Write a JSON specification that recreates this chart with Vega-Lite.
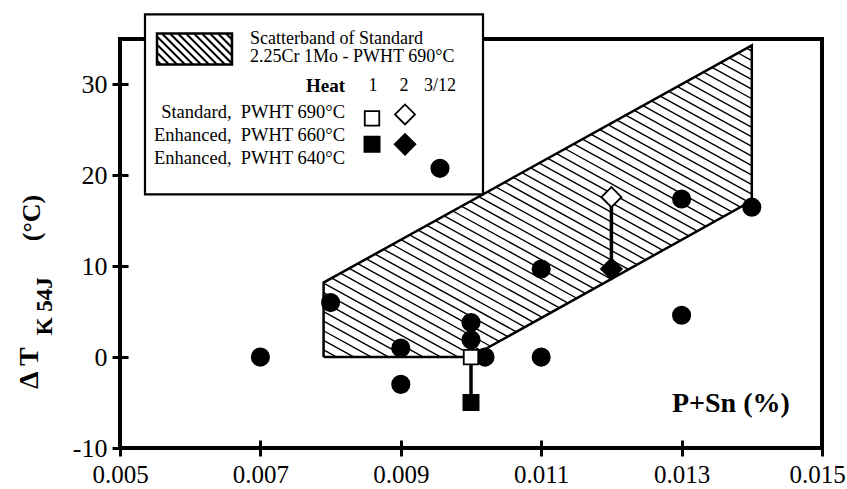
{
  "$schema": "https://vega.github.io/schema/vega-lite/v6.json",
  "width": 702,
  "height": 409,
  "autosize": {"type": "none"},
  "padding": {"left": 120, "top": 39, "right": 25, "bottom": 41},
  "background": "white",
  "config": {
    "view": {"stroke": "black", "strokeWidth": 4},
    "font": "Liberation Serif",
    "axis": {"labelFont": "Liberation Serif", "labelColor": "black", "grid": false, "domain": false, "tickColor": "black", "tickWidth": 3}
  },
  "datasets": {
    "hatch": [
      {"x": 0.0079, "y": 0.8, "x2": 0.008088, "y2": 0},
      {"x": 0.0079, "y": 1.85, "x2": 0.008335, "y2": 0},
      {"x": 0.0079, "y": 2.9, "x2": 0.008582, "y2": 0},
      {"x": 0.0079, "y": 3.95, "x2": 0.008829, "y2": 0},
      {"x": 0.0079, "y": 5.0, "x2": 0.009076, "y2": 0},
      {"x": 0.0079, "y": 6.05, "x2": 0.009324, "y2": 0},
      {"x": 0.0079, "y": 7.1, "x2": 0.009571, "y2": 0},
      {"x": 0.0079, "y": 8.15, "x2": 0.009818, "y2": 0},
      {"x": 0.008017, "y": 8.702, "x2": 0.010032, "y2": 0.138},
      {"x": 0.00814, "y": 9.229, "x2": 0.010155, "y2": 0.666},
      {"x": 0.008264, "y": 9.755, "x2": 0.010278, "y2": 1.194},
      {"x": 0.008387, "y": 10.282, "x2": 0.010401, "y2": 1.722},
      {"x": 0.00851, "y": 10.809, "x2": 0.010523, "y2": 2.25},
      {"x": 0.008633, "y": 11.336, "x2": 0.010646, "y2": 2.778},
      {"x": 0.008756, "y": 11.863, "x2": 0.010769, "y2": 3.306},
      {"x": 0.008879, "y": 12.389, "x2": 0.010892, "y2": 3.834},
      {"x": 0.009002, "y": 12.916, "x2": 0.011015, "y2": 4.363},
      {"x": 0.009125, "y": 13.443, "x2": 0.011137, "y2": 4.891},
      {"x": 0.009248, "y": 13.97, "x2": 0.01126, "y2": 5.419},
      {"x": 0.009372, "y": 14.496, "x2": 0.011383, "y2": 5.947},
      {"x": 0.009495, "y": 15.023, "x2": 0.011506, "y2": 6.475},
      {"x": 0.009618, "y": 15.55, "x2": 0.011629, "y2": 7.003},
      {"x": 0.009741, "y": 16.077, "x2": 0.011751, "y2": 7.531},
      {"x": 0.009864, "y": 16.603, "x2": 0.011874, "y2": 8.059},
      {"x": 0.009987, "y": 17.13, "x2": 0.011997, "y2": 8.587},
      {"x": 0.01011, "y": 17.657, "x2": 0.01212, "y2": 9.115},
      {"x": 0.010233, "y": 18.184, "x2": 0.012243, "y2": 9.643},
      {"x": 0.010356, "y": 18.71, "x2": 0.012366, "y2": 10.171},
      {"x": 0.01048, "y": 19.237, "x2": 0.012488, "y2": 10.699},
      {"x": 0.010603, "y": 19.764, "x2": 0.012611, "y2": 11.227},
      {"x": 0.010726, "y": 20.291, "x2": 0.012734, "y2": 11.756},
      {"x": 0.010849, "y": 20.817, "x2": 0.012857, "y2": 12.284},
      {"x": 0.010972, "y": 21.344, "x2": 0.01298, "y2": 12.812},
      {"x": 0.011095, "y": 21.871, "x2": 0.013102, "y2": 13.34},
      {"x": 0.011218, "y": 22.398, "x2": 0.013225, "y2": 13.868},
      {"x": 0.011341, "y": 22.925, "x2": 0.013348, "y2": 14.396},
      {"x": 0.011464, "y": 23.451, "x2": 0.013471, "y2": 14.924},
      {"x": 0.011588, "y": 23.978, "x2": 0.013594, "y2": 15.452},
      {"x": 0.011711, "y": 24.505, "x2": 0.013716, "y2": 15.98},
      {"x": 0.011834, "y": 25.032, "x2": 0.013839, "y2": 16.508},
      {"x": 0.011957, "y": 25.558, "x2": 0.013962, "y2": 17.036},
      {"x": 0.01208, "y": 26.085, "x2": 0.014, "y2": 17.925},
      {"x": 0.012203, "y": 26.612, "x2": 0.014, "y2": 18.975},
      {"x": 0.012326, "y": 27.139, "x2": 0.014, "y2": 20.025},
      {"x": 0.012449, "y": 27.665, "x2": 0.014, "y2": 21.075},
      {"x": 0.012572, "y": 28.192, "x2": 0.014, "y2": 22.125},
      {"x": 0.012696, "y": 28.719, "x2": 0.014, "y2": 23.175},
      {"x": 0.012819, "y": 29.246, "x2": 0.014, "y2": 24.225},
      {"x": 0.012942, "y": 29.772, "x2": 0.014, "y2": 25.275},
      {"x": 0.013065, "y": 30.299, "x2": 0.014, "y2": 26.325},
      {"x": 0.013188, "y": 30.826, "x2": 0.014, "y2": 27.375},
      {"x": 0.013311, "y": 31.353, "x2": 0.014, "y2": 28.425},
      {"x": 0.013434, "y": 31.879, "x2": 0.014, "y2": 29.475},
      {"x": 0.013557, "y": 32.406, "x2": 0.014, "y2": 30.525},
      {"x": 0.01368, "y": 32.933, "x2": 0.014, "y2": 31.575},
      {"x": 0.013804, "y": 33.46, "x2": 0.014, "y2": 32.625},
      {"x": 0.013927, "y": 33.986, "x2": 0.014, "y2": 33.675}
    ],
    "band": [
      {"i": 1, "x": 0.0079, "y": 0},
      {"i": 2, "x": 0.0100, "y": 0},
      {"i": 3, "x": 0.0140, "y": 17.2},
      {"i": 4, "x": 0.0140, "y": 34.3},
      {"i": 5, "x": 0.0079, "y": 8.2},
      {"i": 6, "x": 0.0079, "y": 0}
    ],
    "links": [
      {"x": 0.010, "y": 0, "y2": -5},
      {"x": 0.012, "y": 17.6, "y2": 9.7}
    ],
    "pts": [
      {"s": "3/12 Enhanced 640", "x": 0.007, "y": 0},
      {"s": "3/12 Enhanced 640", "x": 0.008, "y": 6.0},
      {"s": "3/12 Enhanced 640", "x": 0.009, "y": 1.0},
      {"s": "3/12 Enhanced 640", "x": 0.009, "y": -3.0},
      {"s": "3/12 Enhanced 640", "x": 0.010, "y": 3.8},
      {"s": "3/12 Enhanced 640", "x": 0.010, "y": 1.9},
      {"s": "3/12 Enhanced 640", "x": 0.0102, "y": 0},
      {"s": "3/12 Enhanced 640", "x": 0.011, "y": 9.7},
      {"s": "3/12 Enhanced 640", "x": 0.011, "y": 0},
      {"s": "3/12 Enhanced 640", "x": 0.013, "y": 17.4},
      {"s": "3/12 Enhanced 640", "x": 0.013, "y": 4.6},
      {"s": "3/12 Enhanced 640", "x": 0.014, "y": 16.5},
      {"s": "1 Standard 690", "x": 0.010, "y": 0},
      {"s": "1 Enhanced 660", "x": 0.010, "y": -5},
      {"s": "2 Standard 690", "x": 0.012, "y": 17.6},
      {"s": "2 Enhanced 660", "x": 0.012, "y": 9.7}
    ],
    "legbox": [{"x": 0.005356, "x2": 0.010171, "y": 17.9, "y2": 37.7}],
    "swatch": [{"x": 0.005527, "x2": 0.006595, "y": 32.2, "y2": 35.6}],
    "swhatch": [
      {"x": 0.005527, "y": 32.64, "x2": 0.005584, "y2": 32.2},
      {"x": 0.005527, "y": 33.52, "x2": 0.005698, "y2": 32.2},
      {"x": 0.005527, "y": 34.4, "x2": 0.005812, "y2": 32.2},
      {"x": 0.005527, "y": 35.27, "x2": 0.005926, "y2": 32.2},
      {"x": 0.005598, "y": 35.6, "x2": 0.00604, "y2": 32.2},
      {"x": 0.005712, "y": 35.6, "x2": 0.006154, "y2": 32.2},
      {"x": 0.005826, "y": 35.6, "x2": 0.006268, "y2": 32.2},
      {"x": 0.00594, "y": 35.6, "x2": 0.006382, "y2": 32.2},
      {"x": 0.006054, "y": 35.6, "x2": 0.006496, "y2": 32.2},
      {"x": 0.006168, "y": 35.6, "x2": 0.006595, "y2": 32.31},
      {"x": 0.006282, "y": 35.6, "x2": 0.006595, "y2": 33.19},
      {"x": 0.006396, "y": 35.6, "x2": 0.006595, "y2": 34.07},
      {"x": 0.00651, "y": 35.6, "x2": 0.006595, "y2": 34.95}
    ],
    "legsym": [
      {"s": "1 Standard 690", "x": 0.00859, "y": 26.26},
      {"s": "2 Standard 690", "x": 0.00906, "y": 26.7},
      {"s": "1 Enhanced 660", "x": 0.00859, "y": 23.41},
      {"s": "2 Enhanced 660", "x": 0.00906, "y": 23.41},
      {"s": "3/12 Enhanced 640", "x": 0.009558, "y": 20.77}
    ],
    "legleft": [
      {"t": "Scatterband of Standard", "x": 0.006852, "y": 35.05},
      {"t": "2.25Cr 1Mo - PWHT 690°C", "x": 0.006852, "y": 32.97}
    ],
    "legright": [
      {"t": "Standard,\u00a0 PWHT 690°C", "x": 0.008205, "y": 26.92},
      {"t": "Enhanced,\u00a0 PWHT 660°C", "x": 0.008205, "y": 24.4},
      {"t": "Enhanced,\u00a0 PWHT 640°C", "x": 0.008205, "y": 21.87}
    ],
    "legheat": [{"t": "Heat", "x": 0.008205, "y": 29.78}],
    "legcols": [
      {"t": "1", "x": 0.008604, "y": 29.78},
      {"t": "2", "x": 0.009046, "y": 29.78},
      {"t": "3/12", "x": 0.009558, "y": 29.78}
    ],
    "ytitleMain": [{"t": "Δ T", "x": 0.003718, "y": -3.5}],
    "ytitleSub": [{"t": "K 54J", "x": 0.003932, "y": 2.4}],
    "ytitleUnit": [{"t": "(°C)", "x": 0.003746, "y": 12.75}],
    "xtitle": [{"t": "P+Sn (%)", "x": 0.012863, "y": -5.16}]
  },
  "encoding": {
    "x": {"field": "x", "type": "quantitative", "scale": {"domain": [0.005, 0.015], "nice": false, "zero": false},
          "axis": {"values": [0.005, 0.007, 0.009, 0.011, 0.013, 0.015], "format": ".3f", "title": null, "offset": -8, "tickSize": 16, "labelPadding": 6, "labelFontSize": 25, "labelFlush": false, "labelOverlap": false,
                   "labelOffset": {"condition": {"test": "datum.value > 0.0149", "value": -5}, "value": 0}}},
    "y": {"field": "y", "type": "quantitative", "scale": {"domain": [-10, 35], "nice": false, "zero": false},
          "axis": {"values": [-10, 0, 10, 20, 30], "labelExpr": "'' + datum.value", "title": null, "offset": -8, "tickSize": 16, "labelPadding": 5, "labelFontSize": 26, "labelFlush": false, "labelOverlap": false}}
  },
  "layer": [
    {
      "data": {"name": "hatch"},
      "mark": {"type": "rule", "color": "black", "strokeWidth": 1.4},
      "encoding": {"x2": {"field": "x2"}, "y2": {"field": "y2"}}
    },
    {
      "data": {"name": "band"},
      "mark": {"type": "line", "color": "black", "strokeWidth": 2.5},
      "encoding": {"order": {"field": "i", "type": "quantitative"}}
    },
    {
      "data": {"name": "links"},
      "mark": {"type": "rule", "color": "black", "strokeWidth": 3.5},
      "encoding": {"y2": {"field": "y2"}}
    },
    {
      "data": {"name": "pts"},
      "mark": {"type": "point", "stroke": "black", "strokeWidth": 1.8, "opacity": 1, "fillOpacity": 1},
      "encoding": {
        "shape": {"field": "s", "type": "nominal", "legend": null, "scale": {"domain": ["3/12 Enhanced 640", "1 Standard 690", "1 Enhanced 660", "2 Standard 690", "2 Enhanced 660"], "range": ["circle", "square", "square", "diamond", "diamond"]}},
        "fill": {"field": "s", "type": "nominal", "legend": null, "scale": {"domain": ["3/12 Enhanced 640", "1 Standard 690", "1 Enhanced 660", "2 Standard 690", "2 Enhanced 660"], "range": ["black", "white", "black", "white", "black"]}},
        "size": {"field": "s", "type": "nominal", "legend": null, "scale": {"type": "ordinal", "domain": ["3/12 Enhanced 640", "1 Standard 690", "1 Enhanced 660", "2 Standard 690", "2 Enhanced 660"], "range": [300, 210, 230, 400, 430]}}
      }
    },
    {
      "data": {"name": "legbox"},
      "mark": {"type": "rect", "fill": "white", "stroke": "black", "strokeWidth": 2.2},
      "encoding": {"x2": {"field": "x2"}, "y2": {"field": "y2"}}
    },
    {
      "data": {"name": "swhatch"},
      "mark": {"type": "rule", "color": "black", "strokeWidth": 2},
      "encoding": {"x2": {"field": "x2"}, "y2": {"field": "y2"}}
    },
    {
      "data": {"name": "swatch"},
      "mark": {"type": "rect", "filled": false, "color": "black", "strokeWidth": 2.5},
      "encoding": {"x2": {"field": "x2"}, "y2": {"field": "y2"}}
    },
    {
      "data": {"name": "legsym"},
      "mark": {"type": "point", "stroke": "black", "strokeWidth": 1.8, "opacity": 1, "fillOpacity": 1},
      "encoding": {
        "shape": {"field": "s", "type": "nominal", "legend": null, "scale": {"domain": ["3/12 Enhanced 640", "1 Standard 690", "1 Enhanced 660", "2 Standard 690", "2 Enhanced 660"], "range": ["circle", "square", "square", "diamond", "diamond"]}},
        "fill": {"field": "s", "type": "nominal", "legend": null, "scale": {"domain": ["3/12 Enhanced 640", "1 Standard 690", "1 Enhanced 660", "2 Standard 690", "2 Enhanced 660"], "range": ["black", "white", "black", "white", "black"]}},
        "size": {"field": "s", "type": "nominal", "legend": null, "scale": {"type": "ordinal", "domain": ["3/12 Enhanced 640", "1 Standard 690", "1 Enhanced 660", "2 Standard 690", "2 Enhanced 660"], "range": [300, 210, 230, 400, 430]}}
      }
    },
    {
      "data": {"name": "legleft"},
      "mark": {"type": "text", "align": "left", "baseline": "middle", "fontSize": 18, "font": "Liberation Serif", "color": "black"},
      "encoding": {"text": {"field": "t"}}
    },
    {
      "data": {"name": "legright"},
      "mark": {"type": "text", "align": "right", "baseline": "middle", "fontSize": 18.5, "font": "Liberation Serif", "color": "black"},
      "encoding": {"text": {"field": "t"}}
    },
    {
      "data": {"name": "legheat"},
      "mark": {"type": "text", "align": "right", "baseline": "middle", "fontSize": 19, "fontWeight": "bold", "font": "Liberation Serif", "color": "black"},
      "encoding": {"text": {"field": "t"}}
    },
    {
      "data": {"name": "legcols"},
      "mark": {"type": "text", "align": "center", "baseline": "middle", "fontSize": 18, "font": "Liberation Serif", "color": "black"},
      "encoding": {"text": {"field": "t"}}
    },
    {
      "data": {"name": "ytitleMain"},
      "mark": {"type": "text", "align": "left", "baseline": "middle", "angle": 270, "fontSize": 28, "fontWeight": "bold", "font": "Liberation Serif", "color": "black"},
      "encoding": {"text": {"field": "t"}}
    },
    {
      "data": {"name": "ytitleSub"},
      "mark": {"type": "text", "align": "left", "baseline": "middle", "angle": 270, "fontSize": 23, "fontWeight": "bold", "font": "Liberation Serif", "color": "black"},
      "encoding": {"text": {"field": "t"}}
    },
    {
      "data": {"name": "ytitleUnit"},
      "mark": {"type": "text", "align": "left", "baseline": "middle", "angle": 270, "fontSize": 26, "fontWeight": "bold", "font": "Liberation Serif", "color": "black"},
      "encoding": {"text": {"field": "t"}}
    },
    {
      "data": {"name": "xtitle"},
      "mark": {"type": "text", "align": "left", "baseline": "middle", "fontSize": 28, "fontWeight": "bold", "font": "Liberation Serif", "color": "black"},
      "encoding": {"text": {"field": "t"}}
    }
  ]
}
